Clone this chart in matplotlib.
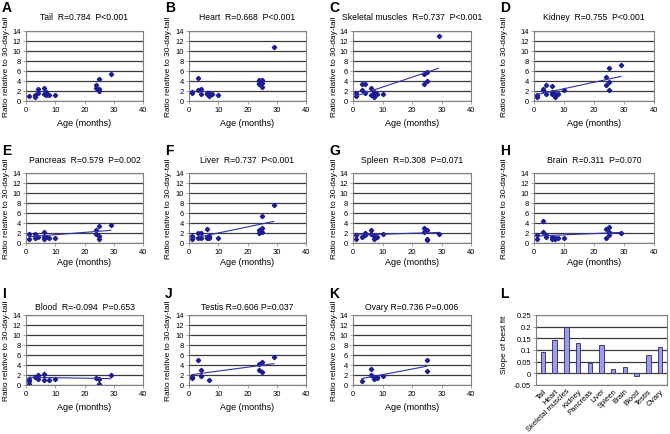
import numpy as np
import matplotlib.pyplot as plt

plt.rcParams['font.family'] = ['Liberation Sans', 'DejaVu Sans']

# data
tail_x = [1, 3, 3, 4, 4, 6, 6, 7, 7, 7, 8, 10, 24, 24, 25, 25, 25, 29]
tail_y = [1.0, 0.9, 1.3, 1.6, 2.5, 2.7, 1.4, 1.8, 1.2, 1.5, 1.3, 1.2, 3.2, 2.7, 4.4, 2.5, 2.0, 5.4]

heart_x = [1, 1, 3, 3, 4, 4, 6, 6, 7, 7, 7, 8, 10, 24, 24, 24, 25, 25, 25, 29]
heart_y = [1.9, 1.7, 4.7, 2.3, 2.5, 1.5, 1.7, 1.5, 1.6, 1.2, 1.0, 1.4, 1.2, 4.2, 3.7, 3.4, 4.2, 3.7, 2.8, 10.9]

skm_x = [1, 1, 3, 3, 4, 4, 6, 6, 7, 7, 7, 8, 10, 24, 24, 25, 25, 29]
skm_y = [1.7, 1.0, 3.5, 2.2, 3.5, 1.7, 2.7, 1.3, 1.8, 0.9, 1.3, 1.4, 1.5, 3.4, 5.4, 4.0, 5.9, 13.1]

kid_x = [1, 1, 3, 3, 4, 4, 6, 6, 6, 7, 7, 7, 8, 10, 24, 24, 25, 25, 25, 29]
kid_y = [0.8, 1.2, 2.2, 2.4, 3.2, 1.4, 3.0, 1.8, 1.5, 1.5, 0.8, 1.2, 1.5, 2.2, 4.9, 3.3, 6.6, 3.9, 2.3, 7.2]

pan_x = [1, 1, 3, 3, 4, 6, 6, 6, 7, 8, 10, 24, 24, 25, 25, 25, 29]
pan_y = [1.8, 0.9, 1.8, 1.0, 1.3, 2.3, 1.3, 0.9, 1.3, 1.1, 1.0, 2.6, 1.8, 3.5, 1.5, 0.9, 3.7]

liv_x = [1, 1, 3, 3, 4, 4, 6, 6, 6, 7, 7, 7, 10, 24, 24, 25, 25, 25, 29]
liv_y = [0.8, 1.5, 1.1, 2.0, 2.0, 1.1, 2.8, 1.3, 1.1, 1.3, 1.0, 1.5, 1.1, 2.1, 2.7, 5.5, 3.1, 2.3, 7.7]

spl_x = [1, 1, 3, 4, 4, 6, 6, 7, 7, 8, 10, 24, 24, 25, 25, 25, 29]
spl_y = [1.7, 0.8, 1.3, 2.1, 1.7, 2.6, 1.8, 0.9, 1.5, 1.3, 1.8, 3.1, 2.3, 2.6, 0.9, 0.6, 1.8]

brn_x = [1, 1, 3, 3, 4, 4, 6, 6, 7, 7, 8, 10, 24, 24, 25, 25, 25, 29]
brn_y = [1.7, 0.9, 4.4, 2.3, 1.7, 1.3, 0.8, 1.3, 1.1, 0.8, 1.1, 1.0, 2.8, 1.1, 3.3, 2.3, 1.7, 2.1]

bld_x = [1, 1, 1, 3, 4, 4, 6, 6, 8, 10, 24, 25, 25, 29]
bld_y = [0.9, 0.3, 1.3, 1.7, 2.1, 1.3, 2.3, 1.1, 1.0, 1.3, 1.5, 1.3, 0.2, 2.1]

tes_x = [1, 1, 3, 4, 4, 7, 24, 24, 25, 25, 29]
tes_y = [1.4, 1.7, 5.1, 3.1, 1.8, 1.0, 4.3, 3.0, 4.7, 2.6, 5.6]

ova_x = [3, 6, 6, 7, 7, 8, 8, 10, 25, 25]
ova_y = [0.9, 3.3, 2.1, 1.6, 1.2, 1.6, 1.4, 1.8, 5.1, 2.8]

tissues = ['Tail', 'Heart', 'Skeletal muscles', 'Kidney', 'Pancreas', 'Liver',
           'Spleen', 'Brain', 'Blood', 'Testis', 'Ovary']
r_labels = ['Tail  R=0.784  P<0.001', 'Heart  R=0.668  P<0.001',
            'Skeletal muscles  R=0.737  P<0.001', 'Kidney  R=0.755  P<0.001',
            'Pancreas  R=0.579  P=0.002', 'Liver  R=0.737  P<0.001',
            'Spleen  R=0.308  P=0.071', 'Brain  R=0.311  P=0.070',
            'Blood  R=-0.094  P=0.653', 'Testis R=0.606 P=0.037',
            'Ovary R=0.736 P=0.006']
slopes = [0.091, 0.145, 0.198, 0.129, 0.046, 0.122, 0.018, 0.026, -0.010, 0.078, 0.112]
# intercepts of drawn fit lines (None = no line shown)
intercepts = [None, None, 0.8, 1.17, 1.2, 0.78, 1.58, 1.37, 1.56, 2.0, 0.95]
letters = list('ABCDEFGHIJKL')

xs = [tail_x, heart_x, skm_x, kid_x, pan_x, liv_x, spl_x, brn_x, bld_x, tes_x, ova_x]
ys = [tail_y, heart_y, skm_y, kid_y, pan_y, liv_y, spl_y, brn_y, bld_y, tes_y, ova_y]

W, H = 670, 435
fig = plt.figure(figsize=(6.7, 4.35), dpi=100)

cols = [(26, 143), (189, 306), (353, 471), (534, 654)]
rows = [(32, 102), (174, 244), (316, 386)]
letter_x = [2, 165, 329, 500]
letter_y = [1, 144, 287]
title_y = [18, 161, 308]
ylab_x = [7, 168, 334, 505]
xlab_y = [123, 263, 408]

grid_c = '#3a3a3a'
frame_c = '#808080'
mark_c = '#1c1c96'


def px_axes(l, t, r, b):
    return fig.add_axes([l / W, 1 - b / H, (r - l) / W, (b - t) / H])


def style(ax):
    for s in ax.spines.values():
        s.set_color(frame_c)
        s.set_linewidth(0.8)
    ax.tick_params(labelsize=5.5, length=2, width=0.5, color=frame_c, pad=1.5)
    ax.set_axisbelow(True)


for i in range(12):
    r, c = divmod(i, 4)
    l, rr = cols[c]
    t, b = rows[r]
    if i == 11:
        l, rr = 536, 667
    ax = px_axes(l, t, rr, b)
    style(ax)
    fig.text(letter_x[c] / W, 1 - letter_y[r] / H, letters[i], fontsize=10,
             fontweight='bold', va='top', ha='left')
    if i < 11:
        ax.plot(xs[i], ys[i], 'D', ms=2.2, color=mark_c, mec=mark_c)
        if intercepts[i] is not None:
            xx = np.array([min(xs[i]), max(xs[i])])
            ax.plot(xx, intercepts[i] + slopes[i] * xx, color='#3030a8', lw=0.8)
        ax.set_xlim(0, 40)
        ax.set_ylim(0, 14)
        ax.set_xticks(range(0, 41, 10))
        ax.set_yticks(range(0, 15, 2))
        ax.grid(axis='y', color=grid_c, lw=0.9)
        fig.text((l + rr) / 2 / W, 1 - title_y[r] / H, r_labels[i], fontsize=6.2,
                 ha='center', va='center')
        fig.text(ylab_x[c] / W, 1 - (t + b) / 2 / H, 'Ratio relative to 30-day-tail',
                 fontsize=6, rotation=90, ha='center', va='center')
        fig.text((l + rr) / 2 / W, 1 - xlab_y[r] / H, 'Age (months)', fontsize=6.5,
                 ha='center', va='center')
    else:
        pos = np.arange(len(tissues))
        ax.bar(pos, slopes, width=0.38, color='#9c9cf2', edgecolor='#2a2a5a', lw=0.6,
               zorder=3)
        ax.set_xlim(-0.6, len(tissues) - 0.4)
        ax.set_ylim(-0.05, 0.25)
        ax.set_yticks([-0.05, 0, 0.05, 0.1, 0.15, 0.2, 0.25])
        ax.set_yticklabels(['-0.05', '0', '0.05', '0.1', '0.15', '0.2', '0.25'])
        ax.grid(axis='y', color=grid_c, lw=0.9)
        ax.axhline(0, color='#555555', lw=0.8, ls=(0, (1, 1)), zorder=4)
        ax.set_xticks(pos)
        ax.set_xticklabels(tissues, rotation=45, ha='right', rotation_mode='anchor',
                           fontsize=5.5)
        ax.tick_params(axis='x', length=0)
        fig.text(505 / W, 1 - 345 / H, 'Slope of best fit', fontsize=6, rotation=90,
                 ha='center', va='center')

fig.savefig('out.png', dpi=100)
